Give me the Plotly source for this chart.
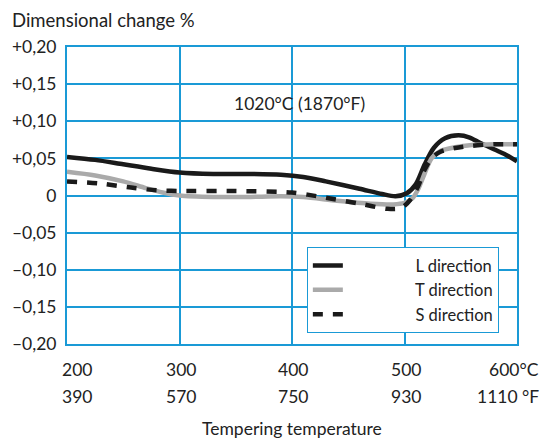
import plotly.graph_objects as go

# ---- data ----
L_temp = [200, 225, 250, 275, 300, 330, 360, 390, 410, 430, 460, 480, 492, 502, 510, 518, 526, 536, 548, 558, 567, 580, 590, 600]
L_val = [0.052, 0.048, 0.042, 0.036, 0.031, 0.029, 0.029, 0.028, 0.025, 0.019, 0.009, 0.002, -0.001, 0.003, 0.015, 0.042, 0.064, 0.077, 0.081, 0.078, 0.071, 0.062, 0.055, 0.046]

T_temp = [200, 225, 250, 270, 285, 300, 330, 360, 390, 410, 440, 470, 490, 500, 507, 512, 518, 524, 532, 545, 560, 580, 600]
T_val = [0.032, 0.027, 0.019, 0.010, 0.004, 0.000, -0.002, -0.002, -0.001, -0.002, -0.007, -0.011, -0.012, -0.010, -0.004, 0.008, 0.030, 0.050, 0.060, 0.065, 0.068, 0.069, 0.069]

S_temp = [200, 230, 260, 280, 300, 350, 400, 430, 460, 485, 497, 505, 512, 518, 524, 532, 545, 560, 580, 600]
S_val = [0.019, 0.016, 0.010, 0.007, 0.006, 0.006, 0.004, -0.003, -0.011, -0.018, -0.017, -0.006, 0.012, 0.035, 0.050, 0.059, 0.064, 0.067, 0.069, 0.069]

series_names = ["L direction", "T direction", "S direction"]

y_ticks = [0.20, 0.15, 0.10, 0.05, 0.0, -0.05, -0.10, -0.15, -0.20]
y_ticktext = ["+0,20", "+0,15", "+0,10", "+0,05", "0", "\u20130,05", "\u20130,10", "\u20130,15", "\u20130,20"]

x_ticks = [200, 300, 400, 500, 600]
x_labels_c = ["200", "300", "400", "500", "600\u00b0C"]
x_labels_f = ["390", "570", "750", "930", "1110 \u00b0F"]

FONT = "Lato"
FS = 17.5
BLUE = "#1a9ad6"
TXT = "#222222"

fig = go.Figure()
pad = "\u00a0" * 16
fig.add_trace(go.Scatter(x=L_temp, y=L_val, mode="lines", name=pad + series_names[0],
                         line=dict(color="#1a1a1a", width=4.5, shape="spline", smoothing=0.8)))
fig.add_trace(go.Scatter(x=T_temp, y=T_val, mode="lines", name=pad + series_names[1],
                         line=dict(color="#aaaaaa", width=4.5, shape="spline", smoothing=0.8)))
fig.add_trace(go.Scatter(x=S_temp, y=S_val, mode="lines", name=pad + series_names[2],
                         line=dict(color="#1a1a1a", width=4.5, dash="10px,10px", shape="spline", smoothing=0.8)))

annotations = []
for i, (v, c, f) in enumerate(zip(x_ticks, x_labels_c, x_labels_f)):
    if i == 0:
        xa, xs = "left", -7
    elif i == len(x_ticks) - 1:
        xa, xs = "right", 24
    else:
        xa, xs = "center", 1
    annotations.append(dict(x=v, y=0, xref="x", yref="paper", text=c, showarrow=False,
                            xanchor=xa, yanchor="middle", xshift=xs, yshift=-25,
                            font=dict(family=FONT, size=FS, color=TXT)))
    annotations.append(dict(x=v, y=0, xref="x", yref="paper", text=f, showarrow=False,
                            xanchor=xa, yanchor="middle", xshift=xs, yshift=-52,
                            font=dict(family=FONT, size=FS, color=TXT)))

annotations.append(dict(x=0.5, y=0, xref="paper", yref="paper", text="Tempering temperature",
                        showarrow=False, xanchor="center", yanchor="middle", yshift=-84,
                        font=dict(family=FONT, size=FS, color=TXT)))
annotations.append(dict(x=0, y=1, xref="paper", yref="paper", text="Dimensional change %",
                        showarrow=False, xanchor="left", yanchor="middle", xshift=-57, yshift=27,
                        font=dict(family=FONT, size=18.5, color=TXT)))
annotations.append(dict(x=407, y=0.124, xref="x", yref="y", text="1020\u00b0C (1870\u00b0F)",
                        showarrow=False, xanchor="center", yanchor="middle",
                        font=dict(family=FONT, size=FS, color=TXT)))

fig.update_layout(
    width=544, height=439,
    margin=dict(l=65, r=27, t=47, b=95),
    paper_bgcolor="white", plot_bgcolor="white",
    showlegend=True,
    legend=dict(x=0.533, y=0.326, xanchor="left", yanchor="top",
                bgcolor="white", bordercolor=BLUE, borderwidth=1,
                font=dict(family=FONT, size=16.5, color=TXT)),
    annotations=annotations,
    xaxis=dict(range=[200, 600], tickvals=x_ticks, showticklabels=False,
               showgrid=True, gridcolor=BLUE, gridwidth=1.5,
               showline=True, linecolor=BLUE, linewidth=2, mirror=True,
               zeroline=False, ticks=""),
    yaxis=dict(range=[-0.2, 0.2], tickvals=y_ticks, ticktext=y_ticktext,
               showgrid=True, gridcolor=BLUE, gridwidth=1.5,
               showline=True, linecolor=BLUE, linewidth=2, mirror=True,
               zeroline=True, zerolinecolor=BLUE, zerolinewidth=1.5,
               ticks="", ticklabelstandoff=5,
               tickfont=dict(family=FONT, size=FS, color=TXT)),
)

fig.write_html("out.html")
